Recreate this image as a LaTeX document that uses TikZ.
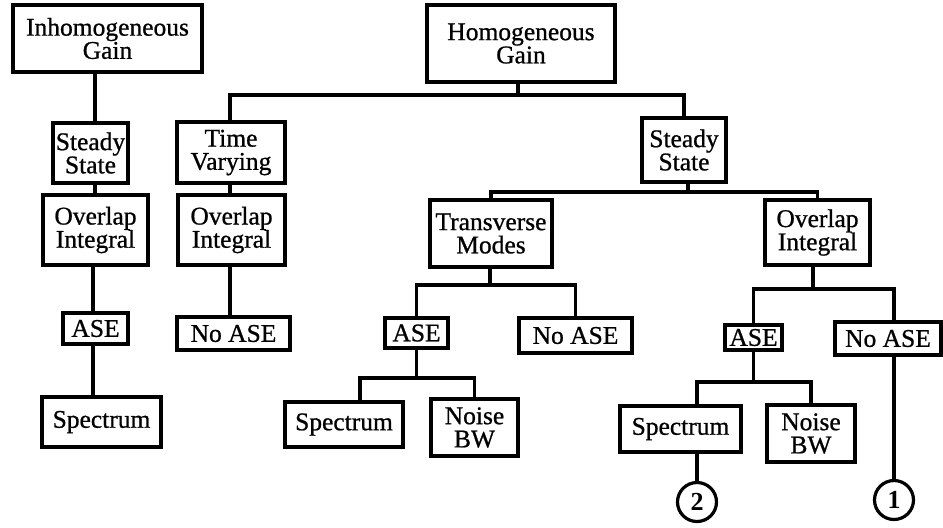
\documentclass[tikz,border=0pt]{standalone}
\usepackage{fontspec}
\setmainfont{Liberation Serif}
\newfontfamily\scanfont{Liberation Serif}[FakeBold=0.8]
\begin{document}
\begin{tikzpicture}[x=0.5pt,y=-0.5pt,
  box/.style={draw, line width=1.6pt, inner sep=0pt, align=center, font=\scanfont\fontsize{12.75}{11.6}\selectfont},
  circ/.style={draw, circle, line width=1.6pt, minimum size=19.5pt, inner sep=0pt, font=\fontsize{13}{13}\selectfont\bfseries},
  link/.style={line width=1.6pt}]
\useasboundingbox (0,0) rectangle (943,527);
\newcommand\bx[6]{\node[box, minimum width={(#4-#2)*0.5pt}, minimum height={(#5-#3)*0.5pt}] (#1) at ({(#2+#4)/2},{(#3+#5)/2}) {#6};}
% boxes
\bx{ig}{13}{5}{202}{72}{Inhomogeneous\\Gain}
\bx{hg}{427}{5}{615}{82}{Homogeneous\\Gain}
\bx{ssl}{53}{123}{128}{183}{Steady\\State}
\bx{oil}{43}{195}{148}{265}{Overlap\\Integral}
\bx{asel}{63}{313}{128}{344}{ASE}
\bx{spl}{42}{397}{161}{447}{Spectrum}
\bx{tv}{177}{122}{285}{183}{Time\\Varying}
\bx{oim}{178}{195}{285}{265}{Overlap\\Integral}
\bx{noasel}{177}{317}{290}{350}{No ASE}
\bx{ssr}{642}{118}{726}{182}{Steady\\State}
\bx{tm}{430}{200}{552}{267}{Transverse\\Modes}
\bx{oir}{765}{200}{870}{265}{Overlap\\Integral}
\bx{asem}{385}{318}{448}{348}{ASE}
\bx{noasem}{519}{318}{632}{353}{No ASE}
\bx{spm}{285}{402}{403}{447}{Spectrum}
\bx{nbm}{431}{399}{518}{456}{Noise\\BW}
\bx{aser}{725}{325}{782}{350}{ASE}
\bx{noaser}{835}{322}{941}{355}{No ASE}
\bx{spr}{620}{406}{741}{452}{Spectrum}
\bx{nbr}{767}{405}{855}{462}{Noise\\BW}
\node[circ] (c2) at (697,502) {2};
\node[circ] (c1) at (894,500) {1};
% helper coordinates
\coordinate (q0) at (95,0);
\coordinate (q00) at (93,0);
\coordinate (qt) at (230,0);
\coordinate (j0) at (518,95);
\coordinate (j2) at (688,192);
\coordinate (j3) at (490,285);
\coordinate (j4) at (813,289);
\coordinate (q1) at (360,378);
\coordinate (q2) at (697,382);
% connectors
\draw[link] (ig.south -| q0) -- (ssl.north -| q0);
\draw[link] (ssl.south -| q0) -- (oil.north -| q0);
\draw[link] (oil.south -| q00) -- (asel.north -| q00);
\draw[link] (asel.south -| q00) -- (spl.north -| q00);
\draw[link] (hg.south -| j0) -- (j0);
\draw[link] (tv.north -| qt) |- (j0) -| (ssr.north);
\draw[link] (tv.south -| qt) -- (oim.north -| qt);
\draw[link] (oim.south -| qt) -- (noasel.north -| qt);
\draw[link] (ssr.south -| j2) -- (j2);
\draw[link] (tm.north) |- (j2) -| (oir.north);
\draw[link] (tm.south -| j3) -- (j3);
\draw[link] (asem.north) |- (j3) -| (noasem.north);
\draw[link] (asem.south) -- (asem.south |- q1);
\draw[link] (spm.north -| q1) -- (q1) -| (nbm.north);
\draw[link] (oir.south -| j4) -- (j4);
\draw[link] (aser.north) |- (j4) -| (noaser.north -| c1);
\draw[link] (aser.south) -- (aser.south |- q2);
\draw[link] (spr.north -| q2) -- (q2) -| (nbr.north);
\draw[link] (spr.south -| c2) -- (c2);
\draw[link] (noaser.south -| c1) -- (c1);
\end{tikzpicture}
\end{document}
